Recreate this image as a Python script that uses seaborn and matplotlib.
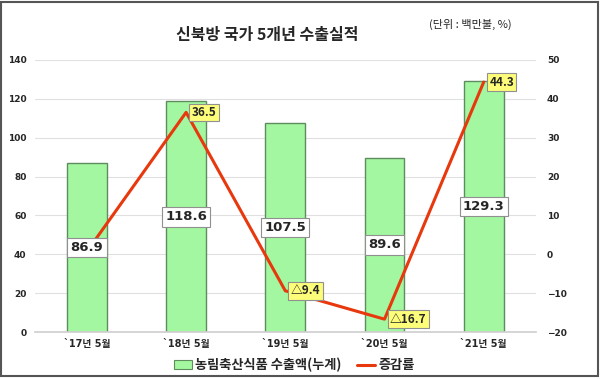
import numpy as np
import pandas as pd
import matplotlib
matplotlib.use("Agg")
import matplotlib.pyplot as plt
import seaborn as sns
from matplotlib.patches import Patch, Rectangle
from matplotlib.lines import Line2D

# ---- data ----
periods = ["`17년 5월", "`18년 5월", "`19년 5월", "`20년 5월", "`21년 5월"]
exports = [86.9, 118.6, 107.5, 89.6, 129.3]
growth = [0.7, 36.5, -9.4, -16.7, 44.3]
growth_labels = ["", "36.5", "△9.4", "△16.7", "44.3"]
left_ticks = [0, 20, 40, 60, 80, 100, 120, 140]
right_ticks = [-20, -10, 0, 10, 20, 30, 40, 50]
title = "신북방 국가 5개년 수출실적"
unit_text = "(단위 : 백만불, %)"
bar_name = "농림축산식품 수출액(누계)"
line_name = "증감률"

sns.set_theme(style="white")
plt.rcParams['font.family'] = ['DejaVu Sans', 'Noto Sans CJK KR']
cjk = ['Noto Sans CJK KR', 'DejaVu Sans']

df = pd.DataFrame({"period": periods, "exports": exports,
                   "growth": growth, "pos": np.arange(len(periods))})

fig = plt.figure(figsize=(6.0, 3.79), dpi=100)
ax = fig.add_axes([0.058, 0.124, 0.835, 0.718])

bar_color = "#a3f7a0"
edge_color = "#5f8c5f"
line_color = "#e8380d"

sns.barplot(data=df, x="period", y="exports", ax=ax, color=bar_color,
            width=0.4, edgecolor=edge_color, linewidth=1.0, saturation=1)
ax.set_xlim(-0.525, 4.525)
ax.set_ylim(0, 140)
ax.set_yticks(left_ticks)
ax.set_xlabel("")
ax.set_ylabel("")
ax.grid(axis="y", color="#e0e0e0", linewidth=0.8)
ax.set_axisbelow(True)
for s in ["left", "right", "top"]:
    ax.spines[s].set_visible(False)
ax.spines["bottom"].set_color("#d0d0d0")
ax.tick_params(axis="y", labelsize=6.5, length=0, pad=6)
ax.tick_params(axis="x", labelsize=7, length=0, pad=5)
for t in ax.get_yticklabels() + ax.get_xticklabels():
    t.set_fontweight("bold")

ax2 = ax.twinx()
sns.lineplot(data=df, x="pos", y="growth", ax=ax2, color=line_color,
             linewidth=2.2, sort=False)
ax2.set_ylim(-20, 50)
ax2.set_yticks(right_ticks)
ax2.set_ylabel("")
ax2.set_xlabel("")
for s in ["left", "right", "top", "bottom"]:
    ax2.spines[s].set_visible(False)
ax2.tick_params(axis="y", labelsize=6.5, length=0, pad=8)
for t in ax2.get_yticklabels():
    t.set_fontweight("bold")
ax2.set_xlim(-0.525, 4.525)

# bar value labels (on top of the line)
for i, v in enumerate(exports):
    ax2.text(i, v / 2, f"{v:.1f}", transform=ax.transData, ha="center", va="center",
             fontsize=9.5, fontweight="bold", zorder=6,
             bbox=dict(boxstyle="square,pad=0.25", fc="white", ec="#909090", lw=0.8))

# growth labels
for i, (g, lab) in enumerate(zip(growth, growth_labels)):
    if not lab:
        continue
    ax2.annotate(lab, (i, g), xytext=(4, 0), textcoords="offset points",
                 ha="left", va="center", fontsize=8.5, fontweight="bold", zorder=7,
                 family=cjk,
                 bbox=dict(boxstyle="square,pad=0.2", fc="#fdfd7a", ec="#909090", lw=0.8))

fig.text(0.445, 0.908, title, ha="center", va="center", fontsize=11.5, fontweight="bold",
         family=cjk)
fig.text(0.853, 0.935, unit_text, ha="right", va="center", fontsize=8, family=cjk)

handles = [Patch(facecolor=bar_color, edgecolor=edge_color, linewidth=0.8),
           Line2D([0], [0], color=line_color, linewidth=2.2)]
fig.legend(handles, [bar_name, line_name], loc="center", bbox_to_anchor=(0.49, 0.037),
           ncol=2, frameon=False, handlelength=1.4, handletextpad=0.2, columnspacing=1.2,
           prop=dict(size=9.5, weight="bold", family=cjk))

fig.patches.append(Rectangle((0.002, 0.008), 0.994, 0.988, transform=fig.transFigure,
                             fill=False, edgecolor="#555555", linewidth=1.5))

fig.savefig("out.png", dpi=100)
